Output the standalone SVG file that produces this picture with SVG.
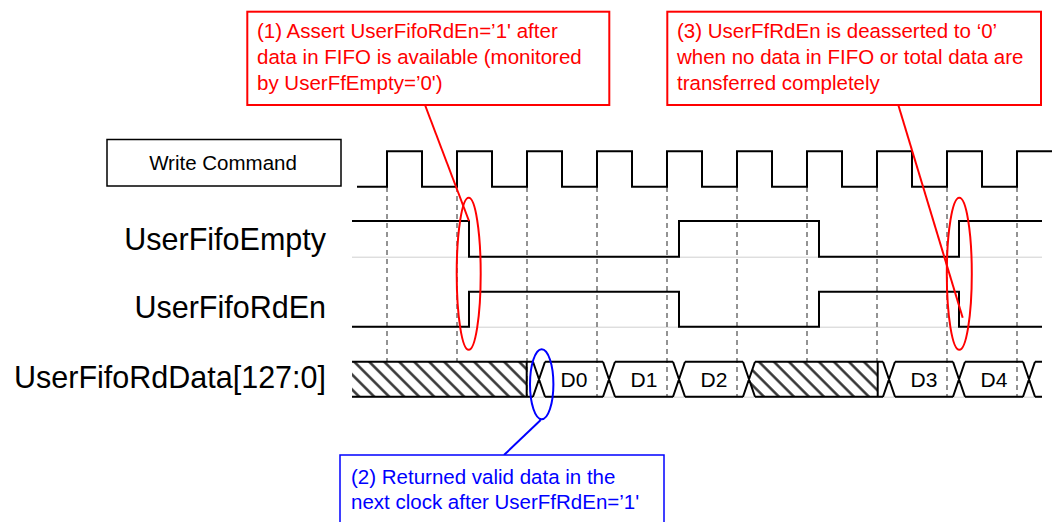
<svg xmlns="http://www.w3.org/2000/svg" width="1052" height="522" viewBox="0 0 1052 522">
<style>
.sig{fill:none;stroke:#000;stroke-width:2}
.dash{fill:none;stroke:#707070;stroke-width:1.5;stroke-dasharray:5 4}
.base{fill:none;stroke:#cfcfcf;stroke-width:1}
.lbl{font-family:"Liberation Sans",Arial,sans-serif;font-size:30.5px;fill:#000;text-anchor:end}
.dat{font-family:"Liberation Sans",Arial,sans-serif;font-size:21px;fill:#000;text-anchor:middle}
.red{font-family:"Liberation Sans",Arial,sans-serif;font-size:20.5px;fill:#ff0000}
.blu{font-family:"Liberation Sans",Arial,sans-serif;font-size:20.5px;fill:#0000ff}
.rbox{fill:#fff;stroke:#ff0000;stroke-width:2}
.bbox{fill:#fff;stroke:#0000ff;stroke-width:1.5}
.rl{fill:none;stroke:#ff0000;stroke-width:2}
.bl{fill:none;stroke:#0000ff;stroke-width:2}
</style>
<defs>
<pattern id="hatch" patternUnits="userSpaceOnUse" width="10.6" height="10.6" patternTransform="rotate(-45)">
<rect width="10.6" height="10.6" fill="#fff"/>
<line x1="5.3" y1="0" x2="5.3" y2="10.6" stroke="#2a2a2a" stroke-width="2.4"/>
</pattern>
</defs>
<rect width="1052" height="522" fill="#fff"/>

<g id="write-command">
<rect x="107" y="139.5" width="234" height="46.5" fill="#fff" stroke="#000" stroke-width="1.5"/>
<text x="223" y="169.5" font-family="Liberation Sans, Arial, sans-serif" font-size="20.5" text-anchor="middle">Write Command</text>
</g>

<g id="labels">
<text class="lbl" x="326" y="250">UserFifoEmpty</text>
<text class="lbl" x="326" y="318">UserFifoRdEn</text>
<text class="lbl" x="326" y="388">UserFifoRdData[127:0]</text>
</g>

<g id="grid">
<path class="base" d="M352,257.2 H1042 M352,327.2 H1042 M352,397.2 H1042"/>
<path class="dash" d="M387,187 V397 M457,187 V397 M527,187 V397 M597,187 V397 M667,187 V397 M737,187 V397 M807,187 V397 M877,187 V397 M947,187 V397 M1017,187 V397"/>
</g>

<g id="clock">
<path class="sig" d="M357,186.7 H387 V151.3 H422 V186.7 H457 V151.3 H492 V186.7 H527 V151.3 H562 V186.7 H597 V151.3 H632 V186.7 H667 V151.3 H702 V186.7 H737 V151.3 H772 V186.7 H807 V151.3 H842 V186.7 H877 V151.3 H912 V186.7 H947 V151.3 H982 V186.7 H1017 V151.3 H1052"/>
</g>

<g id="user-fifo-empty">
<path class="sig" d="M352,221 H469 V256.7 H679 V221 H819 V256.7 H959 V221 H1042"/>
</g>

<g id="user-fifo-rden">
<path class="sig" d="M352,326.7 H469 V291.7 H679 V326.7 H819 V291.7 H959 V326.7 H1042"/>
</g>

<g id="user-fifo-rddata">
<rect x="352" y="361.7" width="174.7" height="35" fill="url(#hatch)"/>
<polygon points="749,379.2 755,361.7 877.7,361.7 877.7,396.7 755,396.7" fill="url(#hatch)"/>
<path class="sig" d="M352,361.7 H533 M352,396.7 H533 M526.7,361.7 V396.7
M533,361.7 L545,396.7 M533,396.7 L545,361.7
M545,361.7 H603 M545,396.7 H603
M603,361.7 L615,396.7 M603,396.7 L615,361.7
M615,361.7 H673 M615,396.7 H673
M673,361.7 L685,396.7 M673,396.7 L685,361.7
M685,361.7 H743 M685,396.7 H743
M743,361.7 L755,396.7 M743,396.7 L755,361.7
M755,361.7 H883 M755,396.7 H883 M877.7,361.7 V396.7
M883,361.7 L895,396.7 M883,396.7 L895,361.7
M895,361.7 H953 M895,396.7 H953
M953,361.7 L965,396.7 M953,396.7 L965,361.7
M965,361.7 H1023 M965,396.7 H1023
M1023,361.7 L1035,396.7 M1023,396.7 L1035,361.7
M1035,361.7 H1042 M1035,396.7 H1042"/>
<text class="dat" x="574" y="387">D0</text>
<text class="dat" x="644" y="387">D1</text>
<text class="dat" x="714" y="387">D2</text>
<text class="dat" x="924" y="387">D3</text>
<text class="dat" x="994" y="387">D4</text>
</g>

<g id="connectors">
<line class="rl" x1="425" y1="105" x2="469" y2="221"/>
<line class="rl" x1="898.3" y1="105" x2="962.7" y2="317.7"/>
<line class="bl" x1="540.7" y1="420" x2="504" y2="455"/>
<ellipse class="rl" cx="468.7" cy="273.8" rx="12" ry="76"/>
<ellipse class="rl" cx="959.3" cy="273.8" rx="12.5" ry="76"/>
<ellipse class="bl" cx="541.7" cy="384.3" rx="11.7" ry="35"/>
</g>

<g id="callout-1">
<rect class="rbox" x="247.3" y="11.7" width="362" height="93.3"/>
<text class="red" x="257" y="38">(1) Assert UserFifoRdEn=’1' after</text>
<text class="red" x="257" y="64">data in FIFO is available (monitored</text>
<text class="red" x="257" y="90">by UserFfEmpty=’0')</text>
</g>

<g id="callout-3">
<rect class="rbox" x="667.3" y="11.7" width="373.7" height="93.3"/>
<text class="red" x="677" y="38">(3) UserFfRdEn is deasserted to ‘0’</text>
<text class="red" x="677" y="64">when no data in FIFO or total data are</text>
<text class="red" x="677" y="90">transferred completely</text>
</g>

<g id="callout-2">
<rect class="bbox" x="340" y="455" width="324" height="80"/>
<text class="blu" x="351" y="484">(2) Returned valid data in the</text>
<text class="blu" x="351" y="508.5">next clock after UserFfRdEn=’1'</text>
</g>
</svg>
